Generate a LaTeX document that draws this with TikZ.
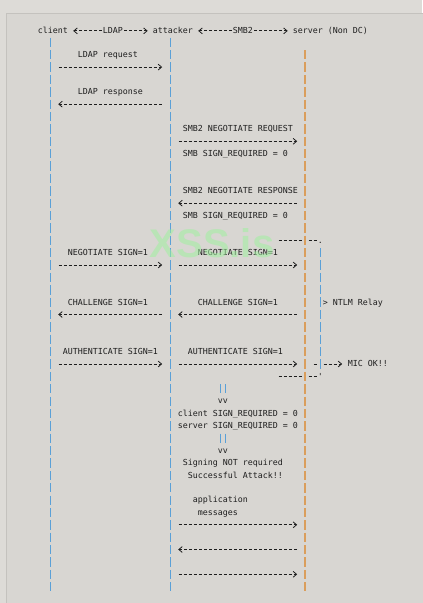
\documentclass[tikz,border=0pt]{standalone}
\usepackage{fontspec}
\usepackage{xcolor}
\usepackage{tikz}
\usetikzlibrary{arrows.meta,positioning}
\newfontfamily\asciifont{DejaVu Sans Mono}
\newfontfamily\markfont{Liberation Sans}
\definecolor{pagebg}{RGB}{221,219,215}
\definecolor{boxbg}{RGB}{216,214,210}
\definecolor{boxrule}{RGB}{196,194,190}
\definecolor{inktxt}{RGB}{30,30,30}
\definecolor{pipeblue}{RGB}{90,160,215}
\definecolor{pipeorange}{RGB}{218,158,92}
\definecolor{markgreen}{RGB}{160,240,160}
\tikzset{
  >={Straight Barb[length=2.6pt,width=4.4pt]},
  txt/.style={inner sep=0pt, text=inktxt, text height=4.6pt, text depth=1.4pt,
    font=\asciifont\fontsize{6.23}{7}\selectfont\frenchspacing},
  hdr/.style={txt, inner xsep=3.75pt},
  hdrlbl/.style={txt, inner xsep=0pt},
  lifeline/.style={draw=pipeblue, line width=1pt, dash pattern=on 7pt off 2.28pt},
  srvline/.style={lifeline, draw=pipeorange, line width=1.15pt},
  pipes/.style={draw=pipeblue, line width=1pt},
  msg/.style={draw=inktxt, line width=0.6pt, dash pattern=on 2.25pt off 1.5pt},
  hdrmsg/.style={msg, shorten <=0.75pt},
  watermark/.style={text=markgreen, opacity=0.55, font=\markfont\bfseries\fontsize{30}{30}\selectfont},
}
\begin{document}
\begin{tikzpicture}[x=0.75pt, y=-0.75pt]
  % page and code box
  \useasboundingbox (0,0) rectangle (422,603);
  \fill[pagebg] (0,0) rectangle (422,603);
  \fill[boxbg] (6.5,13.5) rectangle (423,604);
  \draw[boxrule, line width=0.75pt] (6.5,604) -- (6.5,13.5) -- (423,13.5);

  % header
  \node[hdr, anchor=base west] (client) at (32.7,33) {client};
  \node[hdrlbl, anchor=base west] (ldap) at (102.7,33) {LDAP};
  \node[hdr, anchor=base west] (attacker) at (147.7,33) {attacker};
  \node[hdrlbl, anchor=base west] (smb) at (232.7,33) {SMB2};
  \node[hdr, anchor=base west] (server) at (287.7,33) {server (Non DC)};
  \draw[hdrmsg, ->] (ldap.west) -- (client.east);
  \draw[hdrmsg, ->] (ldap.east) -- (attacker.west);
  \draw[hdrmsg, ->] (smb.west) -- (attacker.east);
  \draw[hdrmsg, ->] (smb.east) -- (server.west);

  % lifelines
  \coordinate (cli-top) at (50.2,37.7);
  \coordinate (cli-bot) at (50.2,591.4);
  \coordinate (att-top) at (170.2,37.7);
  \coordinate (att-bot) at (170.2,591.4);
  \coordinate (srv-top) at (305.2,50.1);
  \coordinate (srv-bot) at (305.2,591.4);
  \coordinate (rel-top) at (320.2,248.0);
  \coordinate (rel-bot) at (320.2,368.7);
  \draw[lifeline] (cli-top) -- (cli-bot);
  \draw[lifeline] (att-top) -- (att-bot);
  \draw[srvline] (srv-top) -- (srv-bot);
  \draw[lifeline] (rel-top) -- (rel-bot);

  % LDAP
  \node[txt, anchor=base west] (ldapreq) at (77.7,57.6) {LDAP request};
  \coordinate (ldapreq-a) at (58.7,67.1);
  \coordinate (ldapreq-b) at (162.2,67.1);
  \draw[msg, ->] (ldapreq-a) -- (ldapreq-b);
  \node[txt, anchor=base west] (ldapresp) at (77.7,94.7) {LDAP response};
  \coordinate (ldapresp-a) at (58.2,104.2);
  \coordinate (ldapresp-b) at (161.7,104.2);
  \draw[msg, ->] (ldapresp-b) -- (ldapresp-a);

  % SMB2 negotiate
  \node[txt, anchor=base west] (negreq) at (182.7,131.8) {SMB2 NEGOTIATE REQUEST};
  \coordinate (negreq-a) at (178.7,141.3);
  \coordinate (negreq-b) at (297.2,141.3);
  \draw[msg, ->] (negreq-a) -- (negreq-b);
  \node[txt, anchor=base west] (negreqsign) at (182.7,156.5) {SMB SIGN\_REQUIRED = 0};
  \node[txt, anchor=base west] (negresp) at (182.7,193.6) {SMB2 NEGOTIATE RESPONSE};
  \coordinate (negresp-a) at (178.2,203.2);
  \coordinate (negresp-b) at (296.7,203.2);
  \draw[msg, ->] (negresp-b) -- (negresp-a);
  \node[txt, anchor=base west] (negrespsign) at (182.7,218.4) {SMB SIGN\_REQUIRED = 0};

  % NTLM relay bracket
  \coordinate (brtop-a) at (278.7,240.3);
  \coordinate (brtop-b) at (302.7,240.3);
  \coordinate (brtop-c) at (308.7,240.3);
  \coordinate (brtop-d) at (317.7,240.3);
  \draw[msg] (brtop-a) -- (brtop-b);
  \draw[msg] (brtop-c) -- (brtop-d);
  \node[txt, anchor=base west] (brtopdot) at (317.7,243.1) {.};
  \coordinate (brbot-a) at (278.7,376.4);
  \coordinate (brbot-b) at (302.7,376.4);
  \coordinate (brbot-c) at (308.7,376.4);
  \coordinate (brbot-d) at (317.7,376.4);
  \draw[msg] (brbot-a) -- (brbot-b);
  \draw[msg] (brbot-c) -- (brbot-d);
  \node[txt, anchor=base west] (brbotquote) at (317.7,379.2) {\char"27};
  \node[txt, anchor=base west] (relay) at (322.7,305.0) {> NTLM Relay};

  % NEGOTIATE
  \node[txt, anchor=base west] (negl) at (67.7,255.5) {NEGOTIATE SIGN=1};
  \node[txt, anchor=base west] (negr) at (197.7,255.5) {NEGOTIATE SIGN=1};
  \coordinate (negl-a) at (58.7,265.0);
  \coordinate (negl-b) at (162.2,265.0);
  \coordinate (negr-a) at (178.7,265.0);
  \coordinate (negr-b) at (297.2,265.0);
  \draw[msg, ->] (negl-a) -- (negl-b);
  \draw[msg, ->] (negr-a) -- (negr-b);

  % CHALLENGE
  \node[txt, anchor=base west] (chall) at (67.7,305.0) {CHALLENGE SIGN=1};
  \node[txt, anchor=base west] (chalr) at (197.7,305.0) {CHALLENGE SIGN=1};
  \coordinate (chall-a) at (58.2,314.5);
  \coordinate (chall-b) at (161.7,314.5);
  \coordinate (chalr-a) at (178.2,314.5);
  \coordinate (chalr-b) at (296.7,314.5);
  \draw[msg, ->] (chalr-b) -- (chalr-a);
  \draw[msg, ->] (chall-b) -- (chall-a);

  % AUTHENTICATE
  \node[txt, anchor=base west] (authl) at (62.7,354.4) {AUTHENTICATE SIGN=1};
  \node[txt, anchor=base west] (authr) at (187.7,354.4) {AUTHENTICATE SIGN=1};
  \coordinate (authl-a) at (58.7,364.0);
  \coordinate (authl-b) at (162.2,364.0);
  \coordinate (authr-a) at (178.7,364.0);
  \coordinate (authr-b) at (297.2,364.0);
  \draw[msg, ->] (authl-a) -- (authl-b);
  \draw[msg, ->] (authr-a) -- (authr-b);
  \coordinate (mic-a) at (313.7,364.0);
  \coordinate (mic-b) at (316.7,364.0);
  \coordinate (mic-c) at (323.7,364.0);
  \coordinate (mic-d) at (342.2,364.0);
  \draw[msg] (mic-a) -- (mic-b);
  \draw[msg, ->] (mic-c) -- (mic-d);
  \node[txt, anchor=base west] (micok) at (347.7,366.8) {MIC OK!!};

  % result
  \coordinate (dbla-1t) at (220.2,384.1);
  \coordinate (dbla-1b) at (220.2,393.4);
  \coordinate (dbla-2t) at (225.2,384.1);
  \coordinate (dbla-2b) at (225.2,393.4);
  \draw[pipes] (dbla-1t) -- (dbla-1b);
  \draw[pipes] (dbla-2t) -- (dbla-2b);
  \node[txt, anchor=base west] (vva) at (217.7,403.9) {vv};
  \node[txt, anchor=base west] (clisign) at (177.7,416.3) {client SIGN\_REQUIRED = 0};
  \node[txt, anchor=base west] (srvsign) at (177.7,428.6) {server SIGN\_REQUIRED = 0};
  \coordinate (dblb-1t) at (220.2,433.6);
  \coordinate (dblb-1b) at (220.2,442.9);
  \coordinate (dblb-2t) at (225.2,433.6);
  \coordinate (dblb-2b) at (225.2,442.9);
  \draw[pipes] (dblb-1t) -- (dblb-1b);
  \draw[pipes] (dblb-2t) -- (dblb-2b);
  \node[txt, anchor=base west] (vvb) at (217.7,453.4) {vv};
  \node[txt, anchor=base west] (notreq) at (182.7,465.8) {Signing NOT required};
  \node[txt, anchor=base west] (success) at (187.7,478.1) {Successful Attack!!};

  % application messages
  \node[txt, anchor=base west] (appl) at (192.7,502.9) {application};
  \node[txt, anchor=base west] (appm) at (197.7,515.2) {messages};
  \coordinate (app1-a) at (178.7,524.8);
  \coordinate (app1-b) at (297.2,524.8);
  \draw[msg, ->] (app1-a) -- (app1-b);
  \coordinate (app2-a) at (178.2,549.5);
  \coordinate (app2-b) at (296.7,549.5);
  \draw[msg, ->] (app2-b) -- (app2-a);
  \coordinate (app3-a) at (178.7,574.3);
  \coordinate (app3-b) at (297.2,574.3);
  \draw[msg, ->] (app3-a) -- (app3-b);

  % watermark
  \node[watermark] (mark) at (212,243) {XSS.is};
\end{tikzpicture}
\end{document}
